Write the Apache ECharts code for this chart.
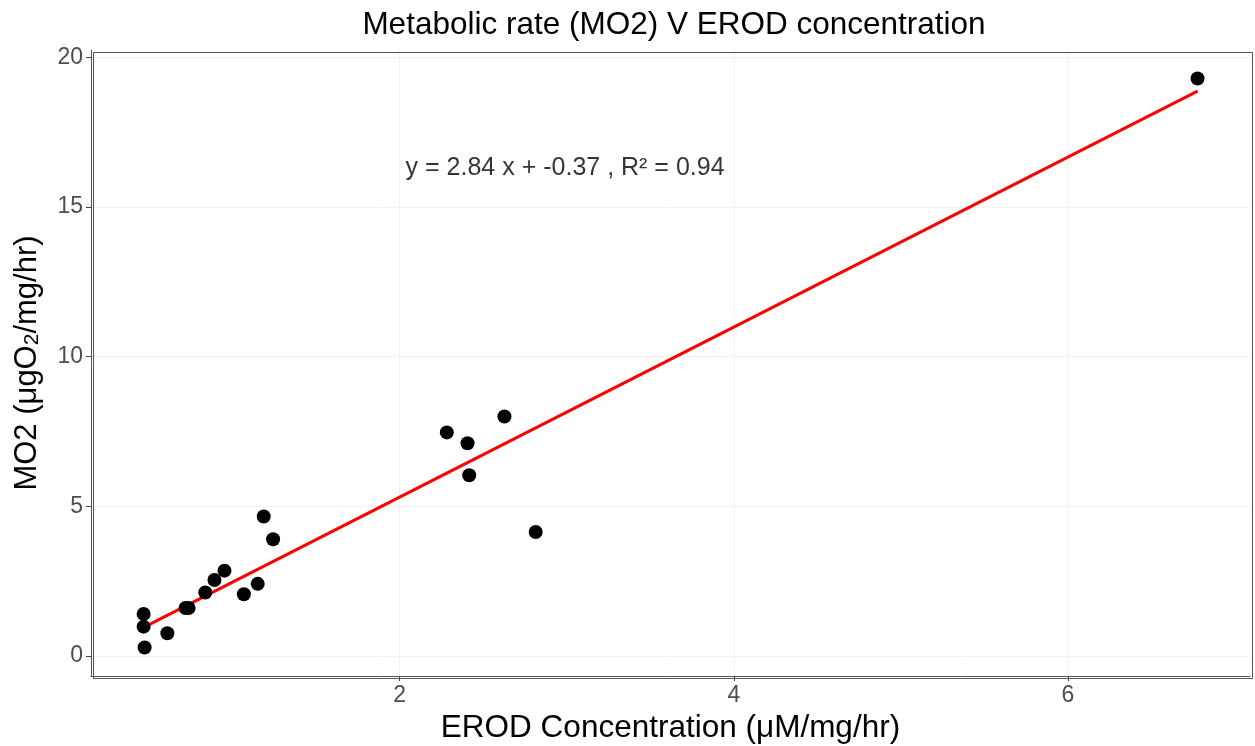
<!DOCTYPE html>
<html>
<head>
<meta charset="utf-8">
<script src="https://cdn.jsdelivr.net/npm/echarts@6/dist/echarts.min.js"></script>
<style>
  html, body { margin: 0; padding: 0; background: #fff; }
  #chart { width: 1255px; height: 746px; }
</style>
</head>
<body>
<div id="chart"></div>
<script>
// EROD concentration (x) vs metabolic rate MO2 (y)
const erod = [0.467, 0.467, 0.473, 0.609, 0.718, 0.736, 0.836, 0.891, 0.951, 1.067, 1.150, 1.186, 1.242, 2.282, 2.406, 2.416, 2.627, 2.814, 6.776];
const mo2  = [1.40, 0.98, 0.28, 0.76, 1.60, 1.60, 2.12, 2.54, 2.85, 2.06, 2.41, 4.66, 3.90, 7.47, 7.11, 6.04, 8.00, 4.14, 19.30];

// fitted line parameters
const slope = 2.84;
const intercept = -0.37;
const fitLabel = 'y = 2.84 x + -0.37 , R\u00B2 = 0.94';
const fitLabelPos = [2.99, 16.3];

const xTicks = [2, 4, 6];
const yTicks = [0, 5, 10, 15, 20];

const points = erod.map((x, i) => [x, mo2[i]]);
const xLo = Math.min(...erod), xHi = Math.max(...erod);
const fitLine = [[xLo, slope * xLo + intercept], [xHi, slope * xHi + intercept]];

const chart = echarts.init(document.getElementById('chart'));
const font = 'Liberation Sans, Arial, sans-serif';

chart.setOption({
  animation: false,
  title: {
    text: 'Metabolic rate (MO2) V EROD concentration',
    left: 669, top: 4, textAlign: 'center',
    textStyle: { fontFamily: font, fontSize: 31.5, fontWeight: 'normal', color: '#000' }
  },
  grid: { left: 91, right: 5, top: 50, bottom: 70, outerBoundsMode: 'none', containLabel: false },
  xAxis: {
    type: 'value', min: 0.152, max: 7.09,
    name: 'EROD Concentration (\u03BCM/mg/hr)',
    nameLocation: 'middle', nameGap: 34,
    nameTextStyle: { fontFamily: font, fontSize: 31.5, color: '#000' },
    axisLine: { show: true, onZero: false, lineStyle: { color: '#555', width: 1 } },
    axisTick: { show: true, length: 5, customValues: xTicks, lineStyle: { color: '#444' } },
    axisLabel: { customValues: xTicks, fontFamily: font, fontSize: 23, color: '#4d4d4d', margin: 8 },
    splitLine: { show: true, lineStyle: { color: '#f2f2f2' } }
  },
  yAxis: {
    type: 'value', min: -0.67, max: 20.25,
    name: '{a|MO2 (\u03BCgO}{s|2}{a|/mg/hr)}',
    nameLocation: 'middle', nameGap: 48,
    nameTextStyle: {
      rich: {
        a: { fontFamily: font, fontSize: 31, color: '#000', lineHeight: 36, verticalAlign: 'bottom' },
        s: { fontFamily: font, fontSize: 21, color: '#000', lineHeight: 24, verticalAlign: 'bottom' }
      }
    },
    axisLine: { show: true, onZero: false, lineStyle: { color: '#555', width: 1 } },
    axisTick: { show: true, length: 5, customValues: yTicks, lineStyle: { color: '#444' } },
    axisLabel: { customValues: yTicks, fontFamily: font, fontSize: 23, color: '#4d4d4d', margin: 8 },
    splitLine: { show: true, lineStyle: { color: '#f2f2f2' } }
  },
  graphic: [{
    type: 'rect', left: 91, top: 50,
    shape: { width: 1255 - 96, height: 746 - 120 },
    style: { fill: 'none', stroke: '#555', lineWidth: 1 }, silent: true, z: 100
  }],
  series: [
    {
      type: 'line', data: fitLine, symbol: 'none',
      lineStyle: { color: '#ff0000', width: 3 }, z: 2
    },
    {
      type: 'scatter', data: points, symbolSize: 14,
      itemStyle: { color: '#000', opacity: 1 }, z: 3
    },
    {
      type: 'scatter', data: [fitLabelPos], symbolSize: 0,
      label: {
        show: true, position: 'inside', formatter: fitLabel,
        fontFamily: font, fontSize: 25, color: '#000'
      }, z: 4
    }
  ]
});
</script>
</body>
</html>
